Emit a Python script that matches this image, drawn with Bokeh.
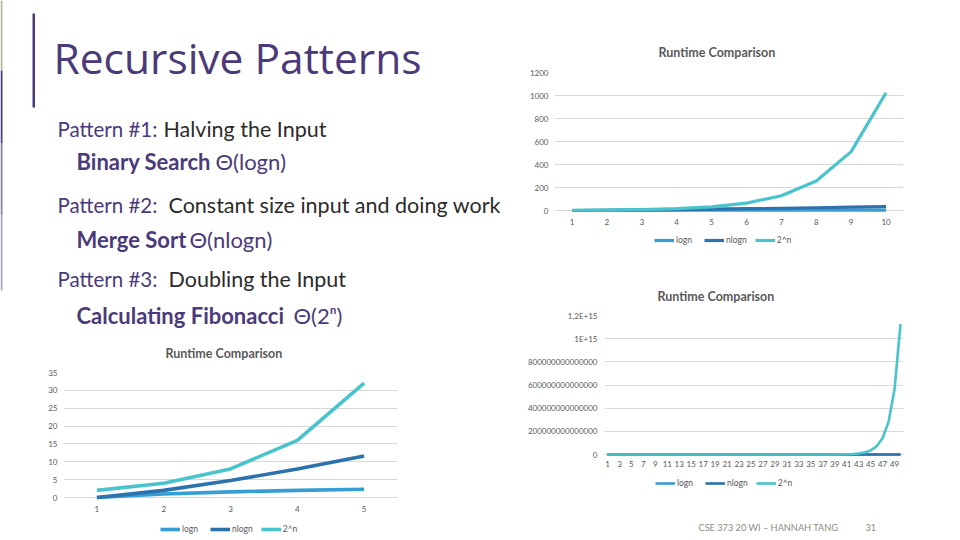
from bokeh.plotting import figure
from bokeh.models import Range1d, FixedTicker, Legend, LegendItem
from bokeh.layouts import row, column
from bokeh.embed import file_html
from bokeh.resources import INLINE
from bokeh.core.properties import value

# ---------------- data ----------------
series_names = ["logn", "nlogn", "2^n"]

n_small = [1, 2, 3, 4, 5]
logn_small = [0, 1, 1.58, 2, 2.32]
nlogn_small = [0, 2, 4.75, 8, 11.61]
pow_small = [2, 4, 8, 16, 32]

n_mid = [1, 2, 3, 4, 5, 6, 7, 8, 9, 10]
logn_mid = [0, 1, 1.58, 2, 2.32, 2.58, 2.81, 3, 3.17, 3.32]
nlogn_mid = [0, 2, 4.75, 8, 11.61, 15.51, 19.65, 24, 28.53, 33.22]
pow_mid = [2, 4, 8, 16, 32, 64, 128, 256, 512, 1024]

n_big = list(range(1, 51))
logn_big = [0, 1, 1.58, 2, 2.32, 2.58, 2.81, 3, 3.17, 3.32,
            3.46, 3.58, 3.70, 3.81, 3.91, 4, 4.09, 4.17, 4.25, 4.32,
            4.39, 4.46, 4.52, 4.58, 4.64, 4.70, 4.75, 4.81, 4.86, 4.91,
            4.95, 5, 5.04, 5.09, 5.13, 5.17, 5.21, 5.25, 5.29, 5.32,
            5.36, 5.39, 5.43, 5.46, 5.49, 5.52, 5.55, 5.58, 5.61, 5.64]
nlogn_big = [0, 2, 4.75, 8, 11.61, 15.51, 19.65, 24, 28.53, 33.22,
             38.05, 43.02, 48.11, 53.30, 58.60, 64, 69.49, 75.06, 80.71, 86.44,
             92.24, 98.11, 104.04, 110.04, 116.10, 122.21, 128.38, 134.60, 140.88, 147.21,
             153.58, 160, 166.46, 172.97, 179.53, 186.12, 192.75, 199.42, 206.13, 212.88,
             219.66, 226.48, 233.33, 240.21, 247.13, 254.08, 261.06, 268.08, 275.13, 282.19]
pow_big = [2, 4, 8, 16, 32, 64, 128, 256, 512, 1024,
           2048, 4096, 8192, 16384, 32768, 65536, 131072, 262144, 524288, 1048576,
           2097152, 4194304, 8388608, 16777216, 33554432, 67108864, 134217728,
           268435456, 536870912, 1073741824,
           2147483648, 4294967296, 8589934592, 17179869184, 34359738368,
           68719476736, 137438953472, 274877906944, 549755813888, 1099511627776,
           2199023255552, 4398046511104, 8796093022208, 17592186044416,
           35184372088832, 70368744177664, 140737488355328, 281474976710656,
           562949953421312, 1125899906842624]

y_ticks_small = [0, 5, 10, 15, 20, 25, 30, 35]
y_ticks_mid = [0, 200, 400, 600, 800, 1000, 1200]
y_ticks_big = [0, 200000000000000, 400000000000000, 600000000000000,
               800000000000000, 1000000000000000, 1200000000000000]
y_labels_big = ["0", "200000000000000", "400000000000000", "600000000000000",
                "800000000000000", "1E+15", "1,2E+15"]
x_ticks_big = list(range(1, 50, 2))

chart_title = "Runtime Comparison"

# ---------------- style ----------------
PURPLE = "#4B3A7A"
TICK = "#595959"
GRID = "#D9D9D9"
COLORS = ["#359ED4", "#2C72AC", "#49C3CC"]
FONT = "Lato"


def make_chart(width, height, xs, ys, x_ticks, y_max, y_ticks, y_overrides,
               mb_left, frame_w, top_px, zero_px, bottom_px,
               title_off, title_standoff, lw, x_standoff, y_standoff,
               legend_x, legend_center_px):
    # the frame reaches below the zero line so that the tick labels and the
    # legend (as in the spreadsheet chart) sit inside it
    y_min = -(bottom_px - zero_px) / (zero_px - top_px) * y_max
    p = figure(width=width, height=height, output_backend="svg",
               toolbar_location=None, frame_align=False,
               x_range=Range1d(0.5, len(xs) + 0.5),
               y_range=Range1d(y_min, y_max),
               min_border_left=mb_left, min_border_top=top_px,
               min_border_right=width - mb_left - frame_w,
               min_border_bottom=height - bottom_px)
    p.outline_line_color = None
    p.background_fill_color = None
    p.border_fill_color = None
    p.xgrid.visible = False
    p.ygrid.grid_line_color = GRID
    p.ygrid.grid_line_width = 1
    p.xaxis.ticker = FixedTicker(ticks=x_ticks)
    p.xaxis.fixed_location = 0
    p.yaxis.ticker = FixedTicker(ticks=y_ticks)
    if y_overrides:
        p.yaxis.major_label_overrides = y_overrides
    for ax in (p.xaxis[0], p.yaxis[0]):
        ax.axis_line_color = None
        ax.major_tick_line_color = None
        ax.minor_tick_line_color = None
        ax.major_tick_out = 0
        ax.major_tick_in = 0
        ax.major_label_text_color = TICK
        ax.major_label_text_font = FONT
        ax.major_label_text_font_size = "8px"
    p.xaxis.major_label_standoff = x_standoff
    p.yaxis.major_label_standoff = y_standoff

    renderers = []
    for yv, c in zip(ys, COLORS):
        r = p.line(xs, yv, line_color=c, line_width=lw, line_join="round")
        renderers.append(r)

    p.title.text = chart_title
    p.title.align = "left"
    p.title.offset = title_off
    p.title.standoff = title_standoff
    p.title.text_font = FONT
    p.title.text_font_size = "12.5px"
    p.title.text_font_style = "bold"
    p.title.text_color = TICK

    legend = Legend(items=[LegendItem(label=s, renderers=[r])
                           for s, r in zip(series_names, renderers)],
                    orientation="horizontal",
                    location=(legend_x, bottom_px - legend_center_px - 5),
                    margin=0, padding=0, spacing=8,
                    glyph_width=20, glyph_height=10, label_standoff=2,
                    label_text_font=FONT, label_text_font_size="8.5px",
                    label_text_color=TICK, background_fill_alpha=0,
                    border_line_color=None, label_height=10)
    p.add_layout(legend)
    return p


# chart 1 (top right): page region x 510..960, y 0..262
chart1 = make_chart(450, 262, n_mid, [logn_mid, nlogn_mid, pow_mid],
                    n_mid, 1200, y_ticks_mid, None,
                    44, 349, 72, 210, 247,
                    104, 25, 3.2, 8, 6, 100, 240)
# chart 2 (middle right): page region y 262..512
chart2 = make_chart(450, 250, n_big, [logn_big, nlogn_big, pow_big],
                    x_ticks_big, 1200000000000000, y_ticks_big,
                    dict(zip(y_ticks_big, y_labels_big)),
                    94, 299, 53, 192, 229,
                    53, 23, 2.6, 6, 7, 51, 221.3)
# chart 3 (bottom left): page region x 0..510, y 330..540
chart3 = make_chart(510, 210, n_small, [logn_small, nlogn_small, pow_small],
                    n_small, 35, y_ticks_small, None,
                    63, 334, 42, 167, 206,
                    102, 24, 3.6, 8, 6, 97, 199)

# ---------------- slide text ----------------
txt = figure(width=510, height=330, output_backend="svg", toolbar_location=None,
             frame_align=False,
             x_range=Range1d(0, 510), y_range=Range1d(330, 0),
             min_border=0)
txt.axis.visible = False
txt.grid.visible = False
txt.outline_line_color = None

# decorative edge bar and title rule
txt.quad(left=[0, 0, 0, 0], right=[2, 2, 2, 2], top=[0, 70, 143, 215],
         bottom=[70, 143, 215, 290],
         fill_color=["#B9B59E", "#4B3A7A", "#8A80A6", "#ABA6BA"], line_color=None)
txt.quad(left=[32], right=[34.5], top=[13], bottom=[107],
         fill_color=PURPLE, line_color=None)

txt.text(x=[53], y=[57], text=["Recursive Patterns"], text_font=value("Open Sans"),
         text_font_size="42.5px", text_color=PURPLE, text_baseline="alphabetic")

pat_x = [57, 57, 57]
pat_y = [128.6, 204.6, 278.6]
pat_t = ["Pattern #1:", "Pattern #2:", "Pattern #3:"]
desc_x = [163, 168, 168]
desc_t = ["Halving the Input", "Constant size input and doing work", "Doubling the Input"]
txt.text(x=pat_x, y=pat_y, text=pat_t, text_font=value(FONT), text_font_size="20.5px",
         text_color=PURPLE, text_baseline="alphabetic")
txt.text(x=desc_x, y=pat_y, text=desc_t, text_font=value(FONT), text_font_size="21.5px",
         text_color="#2B2B2B", text_baseline="alphabetic")

alg_y = [161.3, 238.7, 314.7]
alg_t = ["Binary Search", "Merge Sort", "Calculating Fibonacci"]
cx_x = [215, 189, 293]
cx_t = ["Θ(logn)", "Θ(nlogn)", "Θ(2ⁿ)"]
txt.text(x=[76, 76, 76], y=alg_y, text=alg_t, text_font=value(FONT), text_font_size="22px",
         text_font_style="bold", text_color=PURPLE, text_baseline="alphabetic")
txt.text(x=cx_x, y=alg_y, text=cx_t, text_font=value(FONT), text_font_size="22px",
         text_color=PURPLE, text_baseline="alphabetic")

# ---------------- footer ----------------
foot = figure(width=450, height=28, output_backend="svg", toolbar_location=None,
              frame_align=False,
              x_range=Range1d(510, 960), y_range=Range1d(540, 512), min_border=0)
foot.axis.visible = False
foot.grid.visible = False
foot.outline_line_color = None
foot.text(x=[698, 865], y=[527, 527], text=["CSE 373 20 WI – HANNAH TANG", "31"],
          text_font=value(FONT), text_font_size="9.2px", text_color="#8E8B80",
          text_baseline="middle")

layout = row(column(txt, chart3), column(chart1, chart2, foot))
open("out.html", "w").write(file_html(layout, INLINE))
